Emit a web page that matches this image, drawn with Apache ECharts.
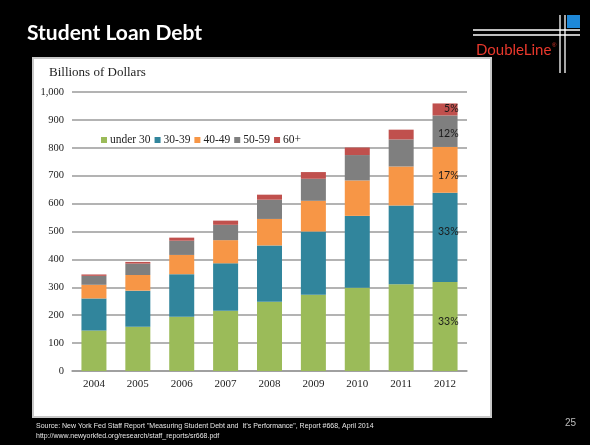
<!DOCTYPE html>
<html>
<head>
<meta charset="utf-8">
<script src="https://cdn.jsdelivr.net/npm/echarts@6/dist/echarts.min.js"></script>
<style>
html,body{margin:0;padding:0;background:#000;}
#c{width:590px;height:445px;}
</style>
</head>
<body>
<div id="c"></div>
<script>
// ---- data ----
const years = ['2004','2005','2006','2007','2008','2009','2010','2011','2012'];
const seriesNames = ['under 30','30-39','40-49','50-59','60+'];
const under30 = [145,159,194,216,248,273,298,311,319];
const age30_39 = [115,129,153,170,202,227,258,282,320];
const age40_49 = [49,56,69,83,95,110,127,140,164];
const age50_59 = [32,41,51,55,69,79,91,97,113];
const age60plus = [5,6,11,15,18,24,27,35,43];
const share2012 = ['33%','33%','17%','12%','5%'];
const yTicks = [0,100,200,300,400,500,600,700,800,900,1000];

const colors = ['#9bbb59','#31859c','#f79646','#7f7f7f','#c0504d'];
const allSeries = [under30, age30_39, age40_49, age50_59, age60plus];
const labelDy = [-5,-6,6,2,-1];

const chart = echarts.init(document.getElementById('c'), null, {renderer:'canvas'});
const serif = '"Liberation Serif","Times New Roman",serif';

const series = allSeries.map((vals, si) => ({
  name: seriesNames[si],
  type: 'bar',
  stack: 'debt',
  barWidth: 25,
  itemStyle: {color: colors[si]},
  emphasis: {disabled: true},
  data: vals.map((v, i) => i === vals.length - 1 ? {
    value: v,
    label: {
      show: true,
      position: 'insideRight',
      distance: 0,
      offset: [1, labelDy[si]],
      formatter: share2012[si],
      color: '#1a1a1a',
      fontFamily: 'Lato, "Open Sans", sans-serif',
      fontSize: 10.5
    }
  } : v)
}));

chart.setOption({
  backgroundColor: '#000',
  animation: false,
  title: {
    text: 'Student Loan Debt',
    left: 22, top: 18,
    textStyle: {color: '#fff', fontFamily: 'Lato, "Open Sans", sans-serif', fontWeight: 'bold', fontSize: 21}
  },
  legend: {
    data: seriesNames,
    left: 96, top: 129,
    icon: 'rect',
    itemWidth: 6, itemHeight: 6,
    itemGap: 4,
    textStyle: {color: '#222', fontFamily: serif, fontSize: 11.5, padding: [0,0,0,-2]},
    selectedMode: false
  },
  grid: {left: 72, right: 123, top: 92, bottom: 74},
  xAxis: {
    type: 'category',
    data: years,
    axisLine: {lineStyle: {color: '#9a9a9a', width: 1.5}},
    axisTick: {show: false},
    axisLabel: {color: '#222', fontFamily: serif, fontSize: 11, margin: 8}
  },
  yAxis: {
    type: 'value',
    min: 0, max: 1000, interval: 100,
    axisLine: {show: false},
    axisTick: {show: false},
    splitLine: {lineStyle: {color: '#9a9a9a', width: 1.5}},
    axisLabel: {
      color: '#222', fontFamily: serif, fontSize: 10.5, margin: 8,
      formatter: v => yTicks.indexOf(v) >= 0 ? v.toLocaleString('en-US') : ''
    }
  },
  graphic: [
    {type: 'rect', z: -100, shape: {x: 33, y: 58, width: 458, height: 359},
     style: {fill: '#fff', stroke: '#c8c8c8', lineWidth: 2}, silent: true},
    {type: 'text', z: 10, left: 49, top: 66,
     style: {text: 'Billions of Dollars', fill: '#222', font: '13px ' + serif}},
    // logo
    {type: 'rect', z: 10, shape: {x: 567, y: 15, width: 13, height: 13}, style: {fill: '#1e88d8'}},
    {type: 'line', z: 10, shape: {x1: 473, y1: 30, x2: 580, y2: 30}, style: {stroke: '#fff', lineWidth: 1.3}},
    {type: 'line', z: 10, shape: {x1: 473, y1: 35, x2: 580, y2: 35}, style: {stroke: '#fff', lineWidth: 1.3}},
    {type: 'line', z: 10, shape: {x1: 560, y1: 15, x2: 560, y2: 73}, style: {stroke: '#fff', lineWidth: 1.3}},
    {type: 'line', z: 10, shape: {x1: 565, y1: 15, x2: 565, y2: 73}, style: {stroke: '#fff', lineWidth: 1.3}},
    {type: 'text', z: 10, left: 476, top: 43,
     style: {text: 'DoubleLine', fill: '#e8382c', font: '15px Lato, "Open Sans", sans-serif'}},
    {type: 'text', z: 10, left: 552, top: 42,
     style: {text: '®', fill: '#e8382c', font: '6px "Liberation Sans", sans-serif'}},
    // footer
    {type: 'text', z: 10, left: 36, top: 423,
     style: {text: 'Source: New York Fed Staff Report "Measuring Student Debt and  It\u2019s Performance", Report #668, April 2014', fill: '#e6e6e6', font: '7px "Liberation Sans", sans-serif'}},
    {type: 'text', z: 10, left: 36, top: 433,
     style: {text: 'http://www.newyorkfed.org/research/staff_reports/sr668.pdf', fill: '#e6e6e6', font: '7px "Liberation Sans", sans-serif'}},
    {type: 'text', z: 10, left: 565, top: 418,
     style: {text: '25', fill: '#bbb', font: '10px "Liberation Sans", sans-serif'}}
  ],
  series: series
});
</script>
</body>
</html>
